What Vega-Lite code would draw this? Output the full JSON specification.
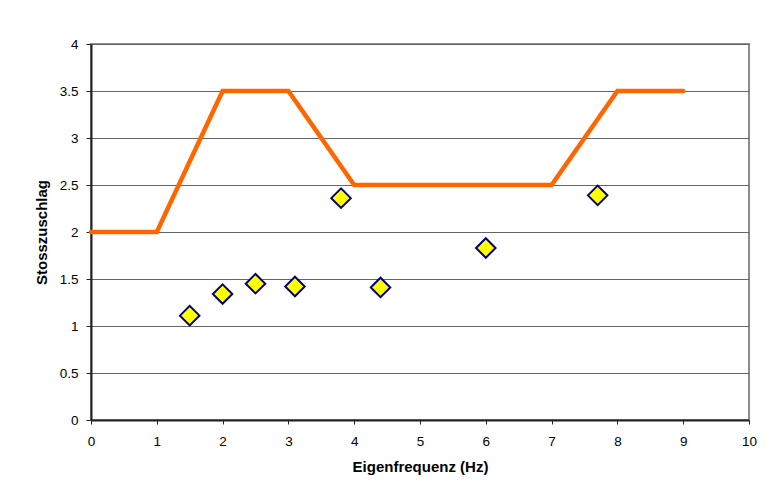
{
  "$schema": "https://vega.github.io/schema/vega-lite/v6.json",
  "autosize": {"type": "none"},
  "width": 658,
  "height": 376,
  "padding": {"left": 91, "top": 44, "right": 22, "bottom": 79},
  "background": "white",
  "config": {
    "font": "Liberation Sans",
    "view": {"stroke": "#8c8c8c", "strokeWidth": 2},
    "axis": {
      "labelFont": "Liberation Sans",
      "titleFont": "Liberation Sans",
      "labelFontSize": 13.5,
      "labelColor": "#000000",
      "titleFontSize": 15,
      "titleFontWeight": "bold",
      "titleColor": "#000000",
      "domainColor": "#222222",
      "domainWidth": 2,
      "tickColor": "#222222",
      "tickSize": 5,
      "gridColor": "#666666",
      "gridWidth": 1,
      "labelFlush": false,
      "format": "~g"
    }
  },
  "datasets": {
    "grenze": [
      {"f": 0, "s": 2},
      {"f": 1, "s": 2},
      {"f": 2, "s": 3.5},
      {"f": 3, "s": 3.5},
      {"f": 4, "s": 2.5},
      {"f": 7, "s": 2.5},
      {"f": 8, "s": 3.5},
      {"f": 9, "s": 3.5}
    ],
    "messung": [
      {"f": 1.5, "s": 1.11},
      {"f": 2.0, "s": 1.34},
      {"f": 2.5, "s": 1.45},
      {"f": 3.1, "s": 1.42},
      {"f": 3.8, "s": 2.36},
      {"f": 4.4, "s": 1.41},
      {"f": 6.0, "s": 1.83},
      {"f": 7.7, "s": 2.39}
    ]
  },
  "layer": [
    {
      "data": {"name": "grenze"},
      "mark": {"type": "line", "color": "#ff6600", "strokeWidth": 4.5, "strokeJoin": "miter", "strokeCap": "round"},
      "encoding": {
        "x": {
          "field": "f", "type": "quantitative",
          "scale": {"domain": [0, 10], "nice": false, "zero": false},
          "axis": {"values": [0,1,2,3,4,5,6,7,8,9,10], "grid": false, "title": "Eigenfrequenz (Hz)", "labelPadding": 10, "titlePadding": 12, "tickSize": 4}
        },
        "y": {
          "field": "s", "type": "quantitative",
          "scale": {"domain": [0, 4], "nice": false},
          "axis": {"values": [0,0.5,1,1.5,2,2.5,3,3.5,4], "grid": true, "title": "Stosszuschlag", "labelPadding": 8, "titlePadding": 10}
        }
      }
    },
    {
      "data": {"name": "messung"},
      "mark": {"type": "point", "shape": "diamond", "filled": true, "fill": "#ffff00", "stroke": "#000080", "strokeWidth": 2, "size": 380, "opacity": 1},
      "encoding": {
        "x": {"field": "f", "type": "quantitative"},
        "y": {"field": "s", "type": "quantitative"}
      }
    }
  ]
}
